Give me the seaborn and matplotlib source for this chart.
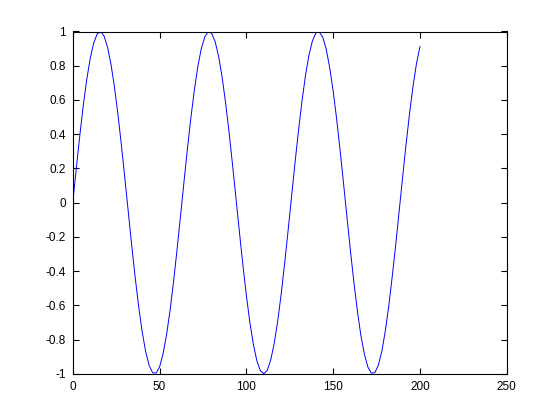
import matplotlib
matplotlib.use("Agg")
import matplotlib.pyplot as plt
import seaborn as sns
import pandas as pd

x_values = list(range(0, 201, 2))
y_values = [
    0.000, 0.199, 0.389, 0.565, 0.717, 0.841, 0.932, 0.985, 1.000, 0.974,
    0.909, 0.808, 0.675, 0.516, 0.335, 0.141, -0.058, -0.256, -0.443, -0.612,
    -0.757, -0.872, -0.952, -0.994, -0.996, -0.959, -0.883, -0.773, -0.631, -0.465,
    -0.279, -0.083, 0.117, 0.312, 0.494, 0.657, 0.794, 0.899, 0.968, 0.999,
    0.989, 0.941, 0.855, 0.734, 0.585, 0.412, 0.223, 0.025, -0.174, -0.366,
    -0.544, -0.700, -0.827, -0.923, -0.981, -1.000, -0.980, -0.920, -0.823, -0.694,
    -0.537, -0.358, -0.165, 0.034, 0.232, 0.420, 0.592, 0.740, 0.860, 0.944,
    0.991, 0.998, 0.966, 0.896, 0.788, 0.650, 0.487, 0.304, 0.108, -0.092,
    -0.288, -0.472, -0.638, -0.779, -0.887, -0.961, -0.997, -0.993, -0.950, -0.869,
    -0.751, -0.604, -0.432, -0.247, -0.050, 0.150, 0.343, 0.523, 0.682, 0.814,
    0.913,
]
x_ticks = [0, 50, 100, 150, 200, 250]
y_ticks = [-1, -0.8, -0.6, -0.4, -0.2, 0, 0.2, 0.4, 0.6, 0.8, 1]
y_tick_labels = ["-1", "-0.8", "-0.6", "-0.4", "-0.2", "0", "0.2", "0.4", "0.6", "0.8", "1"]

sns.set_style("ticks")
plt.rcParams['font.family'] = ['Liberation Sans', 'DejaVu Sans']

df = pd.DataFrame({"x": x_values, "y": y_values})

fig = plt.figure(figsize=(5.6, 4.2), dpi=100, facecolor="white")
ax = fig.add_axes([0.13, 0.11, 0.775, 0.815])
sns.lineplot(data=df, x="x", y="y", ax=ax, color="#0000ff", linewidth=0.7)
ax.set_xlim(0, 250)
ax.set_ylim(-1, 1)
ax.set_xticks(x_ticks)
ax.set_xticklabels([str(t) for t in x_ticks])
ax.set_yticks(y_ticks)
ax.set_yticklabels(y_tick_labels)
ax.set_xlabel("")
ax.set_ylabel("")
for s in ax.spines.values():
    s.set_visible(True)
    s.set_linewidth(0.8)
    s.set_color("black")
ax.tick_params(direction="in", top=True, right=True, length=4, width=0.8,
               labelsize=8.5, colors="black", pad=5)
fig.savefig("out.png", dpi=100, facecolor="white")
